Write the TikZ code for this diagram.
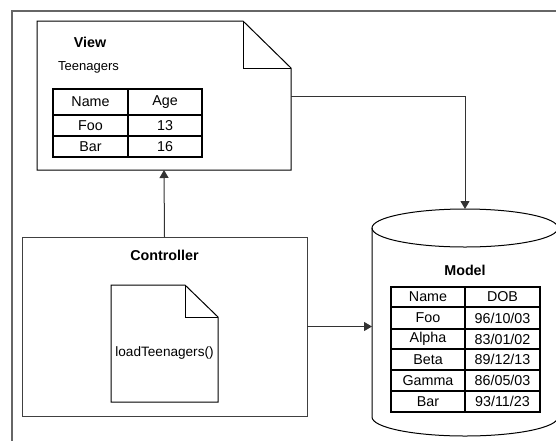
\documentclass[tikz,border=0pt]{standalone}
\usepackage{fontspec}
\setmainfont{Liberation Sans}
\usetikzlibrary{arrows.meta}
\tikzset{
  frame/.style={draw=black!60, line width=1.2pt},
  shapeline/.style={draw=black, line width=1pt},
  gridline/.style={draw=black, line width=1.2pt},
  link/.style={draw=black!80, line width=1pt, -{Triangle[width=9pt,length=8pt]}},
  area/.style={inner sep=0pt, outer sep=0pt},
  cell/.style={inner sep=0pt, font=\fontsize{14.3}{16}\selectfont},
  title/.style={inner sep=0pt, font=\fontsize{14.3}{16}\selectfont\bfseries},
  plain/.style={inner sep=0pt, font=\fontsize{13}{15}\selectfont},
}
\begin{document}
\begin{tikzpicture}[x=1pt, y=-1pt]
\useasboundingbox (0,0) rectangle (556,440);
\clip (0,0) rectangle (556,440);

% outer frame
\draw[frame] (12,11) rectangle (600,600);

% --- View (document with folded corner)
\node[area, minimum width=254pt, minimum height=149pt] (view) at (164,95.5) {};
\draw[shapeline] (view.south west) -- (view.north west) -- ([xshift=-48pt]view.north east)
  -- ([yshift=-47pt]view.north east) -- (view.south east) -- cycle;
\draw[shapeline] ([xshift=-48pt]view.north east) -- ([xshift=-48pt,yshift=-47pt]view.north east)
  -- ([yshift=-47pt]view.north east);
\node[title] (viewtitle) at (90,42) {View};
\node[plain, anchor=west] (teen) at (58,67) {Teenagers};

% view table
\draw[gridline] (53,89) rectangle (202,157);
\draw[gridline] (128,89) -- (128,157);
\draw[gridline] (53,115) -- (202,115);
\draw[gridline] (53,136) -- (202,136);
\node[cell] (vh1) at (90.5,102) {Name};
\node[cell] (vh2) at (165,102) {Age};
\node[cell] (v11) at (90.5,125.5) {Foo};
\node[cell] (v12) at (165,125.5) {13};
\node[cell] (v21) at (90.5,146.5) {Bar};
\node[cell] (v22) at (165,146.5) {16};

% --- Controller
\node[area, draw=black!75, line width=1pt, minimum width=285pt, minimum height=179pt] (ctrl) at (164.5,326.5) {};
\node[title] (ctrltitle) at (164.5,255) {Controller};
\node[area, minimum width=107pt, minimum height=117pt] (code) at (164.5,343.5) {};
\draw[shapeline] (code.south west) -- (code.north west) -- ([xshift=-33pt]code.north east)
  -- ([yshift=-32pt]code.north east) -- (code.south east) -- cycle;
\draw[shapeline] ([xshift=-33pt]code.north east) -- ([xshift=-33pt,yshift=-32pt]code.north east)
  -- ([yshift=-32pt]code.north east);
\node[plain, font=\fontsize{13.6}{15}\selectfont] (load) at (164.5,353) {loadTeenagers()};

% --- Model (cylinder)
\node[area, minimum width=186pt, minimum height=227pt] (model) at (465,322.5) {};
\draw[shapeline] (465,228) ellipse [x radius=93, y radius=19];
\draw[shapeline] (372,228) -- (372,417)
  .. controls (372,427.5) and (413.6,436) .. (465,436)
  .. controls (516.4,436) and (558,427.5) .. (558,417) -- (558,228);
\node[title] (modeltitle) at (465,270) {Model};

% model table
\draw[gridline] (391,287) rectangle (540,412);
\draw[gridline] (465,287) -- (465,412);
\foreach \yy in {307,329,349,370,391} \draw[gridline] (391,\yy) -- (540,\yy);
\node[cell] (mh1) at (428,297) {Name};
\node[cell] (mh2) at (502.5,297) {DOB};
\node[cell] (m11) at (428,318) {Foo};
\node[cell] (m12) at (502.5,318) {96/10/03};
\node[cell] (m21) at (428,339) {Alpha};
\node[cell] (m22) at (502.5,339) {83/01/02};
\node[cell] (m31) at (428,359.5) {Beta};
\node[cell] (m32) at (502.5,359.5) {89/12/13};
\node[cell] (m41) at (428,380.5) {Gamma};
\node[cell] (m42) at (502.5,380.5) {86/05/03};
\node[cell] (m51) at (428,401.5) {Bar};
\node[cell] (m52) at (502.5,401.5) {93/11/23};

% --- connectors
\draw[link] (ctrl.north) -- (view.south);
\draw[link] ([yshift=-0.5pt]view.east) -| (model.north);
\draw[link] (ctrl.east) -- (ctrl.east -| model.west);
\end{tikzpicture}
\end{document}
